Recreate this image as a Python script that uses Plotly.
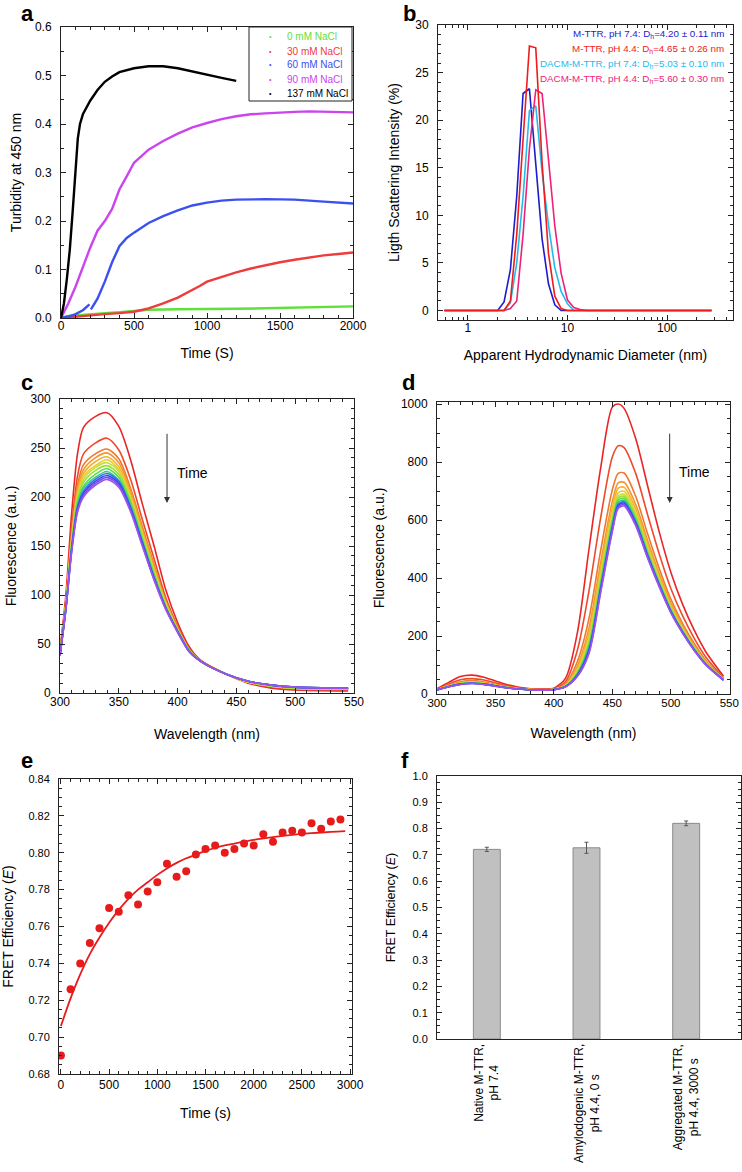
import plotly.graph_objects as go

W, H = 742, 1172
FONT = "Arial, Liberation Sans, Helvetica, sans-serif"

# ---------------- Panel a: turbidity kinetics ----------------
a_names = ["0 mM NaCl", "30 mM NaCl", "60 mM NaCl", "90 mM NaCl", "137 mM NaCl"]
a_colors = ["#5fe03a", "#ee3b3b", "#3c50f0", "#cc44ee", "#000000"]
a_t_0 = [0, 50, 100, 200, 300, 400, 500, 600, 800, 1000, 1200, 1400, 1600, 1800, 2000]
a_v_0 = [0.0, 0.004, 0.005, 0.008, 0.010, 0.012, 0.015, 0.017, 0.018, 0.018, 0.019, 0.020, 0.021, 0.022, 0.024]
a_t_30 = [0, 100, 200, 300, 400, 500, 600, 700, 800, 900, 950, 1000, 1100, 1200, 1300, 1400, 1500, 1600, 1700, 1800, 1900, 2000]
a_v_30 = [0.0, 0.003, 0.006, 0.008, 0.010, 0.013, 0.020, 0.030, 0.042, 0.057, 0.066, 0.075, 0.085, 0.094, 0.102, 0.109, 0.115, 0.120, 0.125, 0.129, 0.132, 0.135]
a_t_60 = [0, 50, 100, 150, 195, 200, 205, 250, 300, 350, 400, 450, 500, 600, 700, 800, 900, 1000, 1100, 1200, 1400, 1600, 1800, 2000]
a_v_60 = [0.0, 0.003, 0.008, 0.016, 0.028, None, 0.018, 0.040, 0.075, 0.115, 0.148, 0.165, 0.176, 0.196, 0.210, 0.222, 0.232, 0.238, 0.242, 0.244, 0.245, 0.244, 0.240, 0.236]
a_t_90 = [0, 50, 100, 150, 200, 250, 300, 350, 400, 450, 500, 600, 700, 800, 900, 1000, 1100, 1200, 1300, 1400, 1500, 1600, 1700, 1800, 1900, 2000]
a_v_90 = [0.0, 0.030, 0.065, 0.105, 0.145, 0.180, 0.200, 0.225, 0.265, 0.292, 0.320, 0.347, 0.365, 0.380, 0.393, 0.402, 0.410, 0.416, 0.420, 0.422, 0.424, 0.425, 0.426, 0.425, 0.424, 0.424]
a_t_137 = [0, 20, 40, 60, 80, 100, 115, 130, 150, 200, 250, 300, 350, 400, 500, 600, 700, 800, 900, 1000, 1100, 1200]
a_v_137 = [0.0, 0.030, 0.080, 0.140, 0.220, 0.300, 0.370, 0.400, 0.420, 0.448, 0.470, 0.487, 0.498, 0.507, 0.515, 0.519, 0.519, 0.515, 0.508, 0.501, 0.495, 0.489]

# ---------------- Panel b: DLS ----------------
b_diam = [0.58, 1.99, 2.305, 2.669, 3.091, 3.580, 4.145, 4.801, 5.560, 6.439, 7.456, 8.635, 10.0, 11.58, 13.41, 15.54, 280]
b_mttr_74 = [0, 0, 0.9, 4.3, 12.0, 22.8, 23.3, 15.0, 7.5, 2.8, 0.6, 0, 0, 0, 0, 0, 0]
b_mttr_44 = [0, 0, 0, 1.0, 8.0, 18.0, 27.8, 27.6, 15.5, 6.0, 1.5, 0.2, 0, 0, 0, 0, 0]
b_dacm_74 = [0, 0, 0, 0.8, 5.0, 12.0, 21.0, 21.5, 14.5, 9.0, 4.5, 2.0, 0.7, 0, 0, 0, 0]
b_dacm_44 = [0, 0, 0, 0.2, 1.0, 8.0, 17.0, 23.2, 22.8, 15.9, 8.9, 3.9, 1.1, 0.3, 0.1, 0, 0]
b_labels = ["M-TTR, pH 7.4: D<sub>h</sub>=4.20 ± 0.11 nm",
            "M-TTR, pH 4.4: D<sub>h</sub>=4.65 ± 0.26 nm",
            "DACM-M-TTR, pH 7.4: D<sub>h</sub>=5.03 ± 0.10 nm",
            "DACM-M-TTR, pH 4.4: D<sub>h</sub>=5.60 ± 0.30 nm"]
b_colors = ["#1c1ccc", "#ee1c1c", "#22bbee", "#ee2277"]

# ---------------- Panel c: donor fluorescence spectra ----------------
c_wl = [300, 305, 310, 315, 320, 330, 340, 350, 360, 370, 380, 390, 400, 410, 420, 440, 460, 480, 500, 545]
c_spectra = [
    [44, 100, 185, 245, 271, 282, 286, 272, 238, 193, 150, 105, 72, 47, 33, 20, 10, 5, 3, 2],
    [42, 94, 170, 222, 244, 255, 260, 248, 218, 177, 137, 97, 68, 45, 33, 20, 11, 6, 4, 3],
    [41, 92, 163, 213, 233, 244, 249, 239, 209, 170, 131, 94, 67, 44, 33, 20, 11, 7, 5, 4],
    [40, 91, 161, 209, 228, 240, 245, 235, 206, 167, 129, 93, 66, 44, 32, 20, 11, 7, 5, 4],
    [40, 90, 159, 205, 224, 236, 241, 231, 203, 165, 127, 92, 65, 44, 32, 20, 11, 7, 5, 4],
    [40, 89, 157, 202, 221, 232, 238, 228, 200, 162, 125, 91, 65, 43, 32, 20, 11, 7, 5, 4],
    [40, 89, 155, 200, 218, 230, 235, 226, 198, 161, 124, 90, 64, 43, 32, 20, 12, 7, 5, 4],
    [39, 88, 153, 198, 215, 227, 232, 223, 196, 159, 122, 89, 64, 43, 32, 20, 12, 7, 5, 4],
    [39, 87, 151, 195, 211, 223, 229, 220, 194, 157, 121, 88, 64, 43, 32, 20, 12, 8, 6, 5],
    [39, 87, 150, 192, 209, 220, 226, 217, 191, 155, 119, 87, 63, 43, 32, 20, 12, 8, 6, 5],
    [39, 86, 149, 190, 206, 218, 224, 216, 190, 154, 118, 87, 63, 42, 32, 20, 12, 8, 6, 5],
    [38, 86, 147, 189, 204, 216, 222, 214, 188, 153, 117, 86, 63, 42, 32, 20, 12, 8, 6, 5],
    [38, 85, 146, 187, 202, 214, 220, 212, 187, 151, 116, 86, 62, 42, 32, 20, 12, 8, 6, 5],
    [38, 85, 145, 185, 200, 212, 218, 210, 185, 150, 115, 85, 62, 42, 32, 20, 12, 8, 6, 5],
]

# ---------------- Panel d: acceptor fluorescence spectra ----------------
d_wl = [300, 310, 320, 330, 340, 350, 360, 370, 380, 390, 400, 410, 420, 430, 440, 450, 455, 460, 470, 480, 490, 500, 510, 520, 530, 545]
d_spectra = [
    [18, 40, 60, 65, 58, 45, 32, 23, 18, 17, 20, 55, 210, 500, 780, 990, 1000, 985, 880, 720, 560, 420, 310, 220, 145, 62],
    [16, 34, 49, 53, 48, 38, 28, 21, 16, 15, 18, 43, 150, 356, 608, 818, 856, 850, 760, 620, 484, 364, 270, 192, 127, 56],
    [15, 30, 42, 46, 41, 33, 25, 19, 15, 14, 17, 35, 111, 261, 495, 705, 761, 762, 681, 554, 434, 327, 244, 174, 115, 53],
    [15, 29, 40, 43, 39, 31, 24, 18, 15, 14, 16, 32, 96, 228, 455, 665, 728, 730, 653, 531, 416, 314, 234, 167, 111, 51],
    [15, 28, 38, 42, 38, 31, 23, 18, 15, 14, 16, 31, 89, 210, 433, 643, 710, 713, 638, 519, 407, 307, 229, 164, 109, 51],
    [15, 27, 37, 40, 37, 30, 23, 18, 15, 14, 16, 30, 83, 194, 415, 625, 694, 699, 625, 508, 399, 301, 225, 161, 107, 50],
    [14, 27, 36, 40, 36, 29, 22, 18, 14, 13, 16, 29, 78, 184, 403, 613, 684, 689, 617, 501, 393, 297, 222, 159, 106, 50],
    [14, 26, 36, 39, 35, 29, 22, 18, 14, 13, 16, 28, 75, 176, 393, 603, 676, 682, 610, 495, 389, 294, 220, 157, 105, 49],
    [14, 26, 35, 38, 35, 28, 22, 17, 14, 13, 15, 27, 72, 169, 384, 594, 669, 675, 604, 490, 385, 291, 218, 156, 104, 49],
    [14, 26, 35, 38, 34, 28, 22, 17, 14, 13, 15, 27, 69, 162, 376, 586, 662, 668, 598, 485, 381, 288, 216, 154, 103, 49],
    [14, 26, 34, 37, 34, 28, 21, 17, 14, 13, 15, 26, 66, 155, 368, 578, 655, 663, 593, 481, 378, 286, 214, 153, 102, 49],
    [14, 25, 34, 37, 34, 28, 21, 17, 14, 13, 15, 26, 64, 150, 362, 572, 650, 658, 589, 477, 376, 284, 213, 152, 101, 48],
    [14, 25, 33, 36, 33, 27, 21, 17, 14, 13, 15, 25, 62, 145, 356, 566, 645, 653, 584, 473, 373, 282, 211, 151, 101, 48],
    [14, 25, 33, 36, 33, 27, 21, 17, 14, 13, 15, 25, 60, 140, 350, 560, 640, 648, 580, 470, 370, 280, 210, 150, 100, 48],
]
d_ticks = [300, 350, 400, 450, 500, 550]
spec_colors = ["#e82626", "#ee4a2a", "#f0782c", "#f2962f", "#f4b032", "#e8cc34", "#c8de3a",
               "#98e03c", "#5cdb46", "#3acb86", "#2f74ef", "#3848ee", "#7a48ec", "#9a54ea"]

# ---------------- Panel e: FRET efficiency kinetics ----------------
e_time = [0, 100, 200, 300, 400, 500, 600, 700, 800, 900, 1000, 1100, 1200, 1300, 1400,
          1500, 1600, 1700, 1800, 1900, 2000, 2100, 2200, 2300, 2400, 2500, 2600, 2700, 2800, 2900]
e_fret = [0.690, 0.726, 0.740, 0.751, 0.759, 0.770, 0.768, 0.777, 0.772, 0.779, 0.784, 0.794, 0.787, 0.790, 0.799,
          0.802, 0.804, 0.800, 0.802, 0.805, 0.804, 0.810, 0.806, 0.811, 0.812, 0.811, 0.816, 0.813, 0.817, 0.818]
e_fit_time = [0, 100, 200, 300, 400, 500, 600, 700, 800, 900, 1000, 1100, 1200, 1300, 1400, 1500, 1600,
              1700, 1800, 1900, 2000, 2200, 2400, 2600, 2800, 2950]
e_fit = [0.706, 0.721, 0.734, 0.745, 0.754, 0.762, 0.769, 0.775, 0.780, 0.784, 0.788, 0.7915, 0.7945, 0.797,
         0.799, 0.801, 0.8027, 0.804, 0.805, 0.806, 0.807, 0.8085, 0.8097, 0.8106, 0.8113, 0.8117]

# ---------------- Panel f: FRET efficiency bars ----------------
f_labels = ["Native M-TTR,<br>pH 7.4", "Amylodogenic M-TTR,<br>pH 4.4, 0 s", "Aggregated M-TTR,<br>pH 4.4, 3000 s"]
f_values = [0.721, 0.727, 0.820]
f_errors = [0.008, 0.021, 0.009]


def px(x):
    return x / W


def py(y):
    return 1 - y / H


fig = go.Figure()

# panel a
a_series = [(a_t_0, a_v_0), (a_t_30, a_v_30), (a_t_60, a_v_60), (a_t_90, a_v_90), (a_t_137, a_v_137)]
for (t, v), c, n in zip(a_series, a_colors, a_names):
    fig.add_trace(go.Scatter(x=t, y=v, mode="lines", line=dict(color=c, width=2.4), name=n,
                             xaxis="x", yaxis="y", showlegend=False, connectgaps=False))

# panel b
for vals, c in [(b_mttr_74, b_colors[0]), (b_dacm_74, b_colors[2]), (b_dacm_44, b_colors[3]), (b_mttr_44, b_colors[1])]:
    fig.add_trace(go.Scatter(x=b_diam, y=vals, mode="lines", line=dict(color=c, width=1.6),
                             xaxis="x2", yaxis="y2", showlegend=False))

# panel c
for vals, c in zip(c_spectra, spec_colors):
    fig.add_trace(go.Scatter(x=c_wl, y=vals, mode="lines", line=dict(color=c, width=1.6, shape="spline", smoothing=0.8),
                             xaxis="x3", yaxis="y3", showlegend=False))
# panel d
for vals, c in zip(d_spectra, spec_colors):
    fig.add_trace(go.Scatter(x=d_wl, y=vals, mode="lines", line=dict(color=c, width=1.6, shape="spline", smoothing=0.8),
                             xaxis="x4", yaxis="y4", showlegend=False))

# panel e
fig.add_trace(go.Scatter(x=e_fit_time, y=e_fit, mode="lines", line=dict(color="#e61c1c", width=1.8, shape="spline"),
                         xaxis="x5", yaxis="y5", showlegend=False))
fig.add_trace(go.Scatter(x=e_time, y=e_fret, mode="markers", marker=dict(color="#e61c1c", size=8),
                         xaxis="x5", yaxis="y5", showlegend=False))

# panel f
fig.add_trace(go.Bar(x=f_labels, y=f_values, width=0.27,
                     marker=dict(color="#c0c0c0", line=dict(color="#8a8a8a", width=1)),
                     error_y=dict(type="data", array=f_errors, color="#555555", thickness=1, width=2),
                     xaxis="x6", yaxis="y6", showlegend=False))


def axis(domain, anchor, rng, dtick, mdtick, title, tsize=14, tfont=12, standoff=8, **kw):
    d = dict(domain=domain, anchor=anchor, range=rng, dtick=dtick, automargin=False,
             showline=True, linecolor="#222222", linewidth=1, mirror="ticks",
             ticks="inside", ticklen=5, tickcolor="#222222", tickwidth=1,
             showgrid=False, zeroline=False, ticklabeloverflow="allow",
             tickfont=dict(family=FONT, size=tfont, color="black"),
             title=dict(text=title, font=dict(family=FONT, size=tsize, color="black"), standoff=standoff))
    if mdtick is not None:
        d["minor"] = dict(ticks="inside", ticklen=3, tickcolor="#222222", dtick=mdtick, showgrid=False)
    d.update(kw)
    return d


layout = dict(
    width=W, height=H, margin=dict(l=0, r=0, t=0, b=0, autoexpand=False),
    paper_bgcolor="white", plot_bgcolor="white",
    font=dict(family=FONT, color="black"),
    showlegend=False,
    # a
    xaxis=axis([px(61), px(353)], "y", [0, 2000], 500, 100, "Time (S)", standoff=15, ticklabelstandoff=-3),
    yaxis=axis([py(318), py(27)], "x", [0, 0.6], 0.1, 0.05, "Turbidity at 450 nm", standoff=10,
               tickformat=".1f", ticklabelstandoff=6),
    # b
    xaxis2=axis([px(438), px(733)], "y2", [-0.301, 2.663], 1, "D1", "Apparent Hydrodynamic Diameter (nm)",
                type="log", standoff=15, ticklabelstandoff=-3),
    yaxis2=axis([py(320), py(25)], "x2", [-1, 30], 5, 1, "Ligth Scattering Intensity (%)", standoff=12,
                ticklabelstandoff=6),
    # c
    xaxis3=axis([px(60), px(354)], "y3", [300, 550], 50, 10, "Wavelength (nm)", standoff=20, ticklabelstandoff=-2),
    yaxis3=axis([py(693), py(399)], "x3", [0, 300], 50, 10, "Fluorescence (a.u.)", standoff=10, ticklabelstandoff=6),
    # d
    xaxis4=axis([px(437), px(730)], "y4", [300, 550.6], None, 10, "Wavelength (nm)", standoff=20,
                ticklabelstandoff=-2, tfont=11.5, tickmode="array", tickvals=d_ticks),
    yaxis4=axis([py(694), py(402)], "x4", [0, 1007], 200, 50, "Fluorescence (a.u.)", standoff=12, ticklabelstandoff=6),
    # e
    xaxis5=axis([px(59), px(352)], "y5", [-20, 3020], 500, 100, "Time (s)", standoff=16, ticklabelstandoff=0),
    yaxis5=axis([py(1074), py(779)], "x5", [0.68, 0.84], 0.02, 0.005, "FRET Efficiency (<i>E</i>)", tfont=11,
                standoff=12, tickformat=".2f", ticklabelstandoff=6),
    # f
    xaxis6=axis([px(437), px(741)], "y6", [-0.5, 2.55], None, None, None, tfont=12, ticks="",
                showticklabels=False, type="category"),
    yaxis6=axis([py(1039), py(776)], "x6", [0, 1.0], 0.1, 0.025, "FRET Efficiency (<i>E</i>)", tsize=12.5,
                tfont=11, standoff=14, tickformat=".1f", ticklabelstandoff=6),
)
fig.update_layout(**layout)

annotations = []
shapes = []
# panel letters
for letter, x, y in [("a", 27, 14), ("b", 409, 14), ("c", 27, 382), ("d", 408, 382), ("e", 27, 761), ("f", 405, 760)]:
    annotations.append(dict(text="<b>%s</b>" % letter, x=px(x), y=py(y), xref="paper", yref="paper",
                            xanchor="center", yanchor="middle", showarrow=False, borderpad=0,
                            font=dict(family=FONT, size=22, color="black")))
# legend of panel a (compact boxed key)
shapes.append(dict(type="rect", xref="paper", yref="paper", x0=px(249), x1=px(352), y0=py(101), y1=py(27),
                   line=dict(color="#222222", width=1), fillcolor="white", layer="above"))
for i, (n, c) in enumerate(zip(a_names, a_colors)):
    yy = py(37 + 14 * i)
    annotations.append(dict(text="•", x=px(270), y=yy, xref="paper", yref="paper", xanchor="center",
                            yanchor="middle", showarrow=False, font=dict(family=FONT, size=7, color=c)))
    annotations.append(dict(text=n, x=px(285), y=yy, xref="paper", yref="paper", xanchor="left",
                            yanchor="middle", showarrow=False, font=dict(family=FONT, size=10, color=c)))
# panel b labels
for i, (txt, c) in enumerate(zip(b_labels, b_colors)):
    annotations.append(dict(text=txt, x=px(726), y=py(34 + 15 * i), xref="paper", yref="paper",
                            xanchor="right", yanchor="middle", showarrow=False,
                            font=dict(family=FONT, size=9.8, color=c)))
# Time arrows
annotations.append(dict(x=391, y=194, ax=391, ay=266, xref="x3", yref="y3", axref="x3", ayref="y3",
                        text="", showarrow=True, arrowhead=2, arrowsize=1.2, arrowwidth=1, arrowcolor="#333333"))
annotations.append(dict(x=413, y=225, xref="x3", yref="y3", text="Time", showarrow=False,
                        font=dict(family=FONT, size=14, color="black")))
annotations.append(dict(x=499, y=659, ax=499, ay=903, xref="x4", yref="y4", axref="x4", ayref="y4",
                        text="", showarrow=True, arrowhead=2, arrowsize=1.2, arrowwidth=1, arrowcolor="#333333"))
annotations.append(dict(x=520, y=766, xref="x4", yref="y4", text="Time", showarrow=False,
                        font=dict(family=FONT, size=14, color="black")))
# category labels of panel f (rotated, centred lines)
for lab in f_labels:
    annotations.append(dict(text=lab, x=lab, y=py(1042), xref="x6", yref="paper", xanchor="center",
                            yanchor="top", textangle=-90, align="center", showarrow=False,
                            font=dict(family=FONT, size=12, color="black")))
fig.update_layout(annotations=annotations, shapes=shapes)

# the page body has a default 8px margin; remove it so the figure starts at the window corner
fig.write_html("out.html", config={"displayModeBar": False},
               post_script="document.body.style.margin='0px';")
